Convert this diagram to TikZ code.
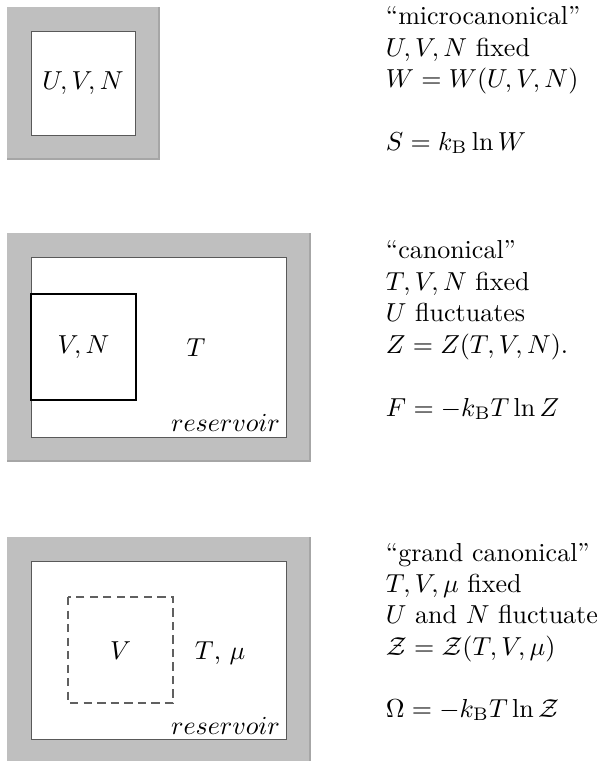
\documentclass[tikz,border=0pt]{standalone}
\usepackage{amsmath}
\begin{document}
\begin{tikzpicture}[x=0.3846pt,y=-0.3846pt,
  wall/.style={fill=gray!50},
  walledge/.style={draw=gray!70, line width=0.4pt},
  cavity/.style={fill=white, draw=gray!70!black, line width=0.3pt},
  txt/.style={anchor=base west, inner sep=0pt, outer sep=0pt},
  restxt/.style={anchor=base east, inner sep=0pt, outer sep=0pt},
  subsys/.style={draw=black, line width=0.8pt},
  opensys/.style={draw=gray!75!black, line width=0.6pt, dash pattern=on 3.2pt off 2pt}]
\useasboundingbox (0,0) rectangle (605,761);
% microcanonical
\fill[wall] (7,7) rectangle (159,159);
\draw[walledge] (159,7) -- (159,159) -- (7,159);
\draw[cavity] (31,31) rectangle (135,135);
\node (uvn) at (83,83) {$U,V,N$};
% canonical
\fill[wall] (7,233) rectangle (310,461);
\draw[walledge] (310,233) -- (310,461) -- (7,461);
\draw[cavity] (31,257) rectangle (286,437);
\draw[subsys] (31,294) rectangle (136,400);
\node (vn) at (83.5,347) {$V,N$};
\node (t) at (196,348) {$T$};
\node[restxt] (res2) at (280,431) {$reservoir$};
% grand canonical
\fill[wall] (7,537) rectangle (310,763);
\draw[walledge] (310,537) -- (310,763);
\draw[cavity] (31,561) rectangle (286,739);
\draw[opensys] (68,597) rectangle (173,703);
\node (v) at (120.5,651) {$V$};
\node[txt] (tmu) at (195,659) {$T$, $\mu$};
\node[restxt] (res3) at (280,734) {$reservoir$};
% texts
\node[txt] (m1) at (386,24) {``microcanonical''};
\node[txt] (m2) at (386,56) {$U,V,N$ fixed};
\node[txt] (m3) at (386,87) {$W=W(U,V,N)$};
\node[txt] (m4) at (386,150) {$S=k_\mathrm{B}\ln W$};
\node[txt] (c1) at (386,258) {``canonical''};
\node[txt] (c2) at (386,290) {$T,V,N$ fixed};
\node[txt] (c3) at (386,321) {$U$ fluctuates};
\node[txt] (c4) at (386,353) {$Z=Z(T,V,N)$.};
\node[txt] (c5) at (386,416) {$F=-k_\mathrm{B}T\ln Z$};
\node[txt] (g1) at (386,561) {``grand canonical''};
\node[txt] (g2) at (386,592) {$T,V,\mu$ fixed};
\node[txt] (g3) at (386,623) {$U$ and $N$ fluctuate};
\node[txt] (g4) at (386,655) {$\mathcal{Z}=\mathcal{Z}(T,V,\mu)$};
\node[txt] (g5) at (386,717) {$\Omega=-k_\mathrm{B}T\ln\mathcal{Z}$};
\end{tikzpicture}
\end{document}
